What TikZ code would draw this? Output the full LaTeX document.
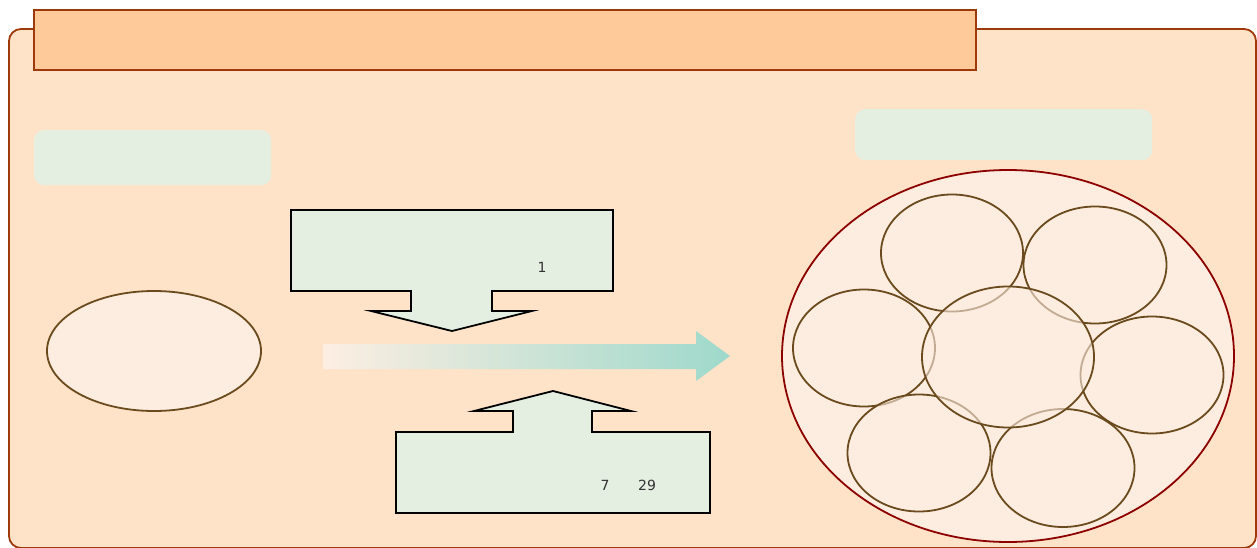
\documentclass[tikz,border=0pt]{standalone}
\usepackage{fontspec}
\setmainfont{DejaVu Sans}
\usepackage{tikz}
\usetikzlibrary{shapes.geometric}

\definecolor{framefill}{HTML}{FEE3C9}
\definecolor{framedraw}{HTML}{9E3A0A}
\definecolor{titlefill}{HTML}{FFCA99}
\definecolor{tagfill}{HTML}{E4EFE2}
\definecolor{cellfill}{HTML}{FCEDE0}
\definecolor{celldraw}{HTML}{6B4A1E}
\definecolor{flowstart}{HTML}{FDEEE2}
\definecolor{flowend}{HTML}{9ED9CB}

\tikzset{
  tag/.style={fill=tagfill, rounded corners=10pt},
  cell/.style={ellipse, draw=celldraw, line width=1.8pt, fill=cellfill, fill opacity=0.6, draw opacity=1, inner sep=0pt},
  block/.style={draw=black, line width=1.8pt, fill=tagfill, line join=miter},
  numtxt/.style={text=black!80, font=\fontsize{14}{16}\selectfont}
}

\begin{document}
\begin{tikzpicture}[x=1pt, y=-1pt]
            \useasboundingbox (0,0) rectangle (1257,548);

            % frame and title
            \draw[fill=framefill, draw=framedraw, line width=1.8pt, rounded corners=12pt] (9,29) rectangle (1256,548);
            \node[draw=framedraw, fill=titlefill, line width=1.8pt, minimum width=942pt, minimum height=60pt, anchor=north west, inner sep=0pt] (title) at (33,9) {};

            % tags
            \node[tag, minimum width=237pt, minimum height=55pt, anchor=north west] (lefttag) at (34,130) {};
            \node[tag, minimum width=297pt, minimum height=51pt, anchor=north west] (righttag) at (855,109) {};

            % left ellipse
            \node[ellipse, draw=celldraw, line width=1.8pt, fill=cellfill, minimum width=214pt, minimum height=120pt, inner sep=0pt] (single) at (154,351) {};

            % down arrow
            \draw[block] (291,210) -- (613,210) -- (613,291) -- (492,291) -- (492,311) -- (532,311)
                -- (452,331) -- (371,311) -- (411,311) -- (411,291) -- (291,291) -- cycle;
            \node[numtxt] (downnum) at (542,267) {1};

            % up arrow
            \draw[block] (396,513) -- (710,513) -- (710,432) -- (592,432) -- (592,411) -- (631,411)
                -- (553,391) -- (474,411) -- (513,411) -- (513,432) -- (396,432) -- cycle;
            \node[numtxt] (upnumA) at (605,485) {7};
            \node[numtxt] (upnumB) at (647,485) {29};

            % gradient arrow
            \shade[left color=flowstart, right color=flowend] (323,344) -- (696,344) -- (696,331) -- (730,356)
                -- (696,381) -- (696,369) -- (323,369) -- cycle;

            % big ellipse
            \node[ellipse, draw=red!55!black, line width=1.8pt, fill=cellfill, minimum width=452pt, minimum height=372pt, inner sep=0pt] (group) at (1008,356) {};

            % cells
            \node[cell, minimum width=142pt, minimum height=117pt] (celltl) at (952,253) {};
            \node[cell, minimum width=143pt, minimum height=117pt] (celltr) at (1095,265) {};
            \node[cell, minimum width=142pt, minimum height=117pt] (celll) at (864,348) {};
            \node[cell, minimum width=143pt, minimum height=117pt] (cellr) at (1152,375) {};
            \node[cell, minimum width=143pt, minimum height=117pt] (cellbl) at (919,453) {};
            \node[cell, minimum width=143pt, minimum height=118pt] (cellbr) at (1063,468) {};
            \node[cell, minimum width=172pt, minimum height=141pt] (cellc) at (1008,357) {};
        \end{tikzpicture}
\end{document}
